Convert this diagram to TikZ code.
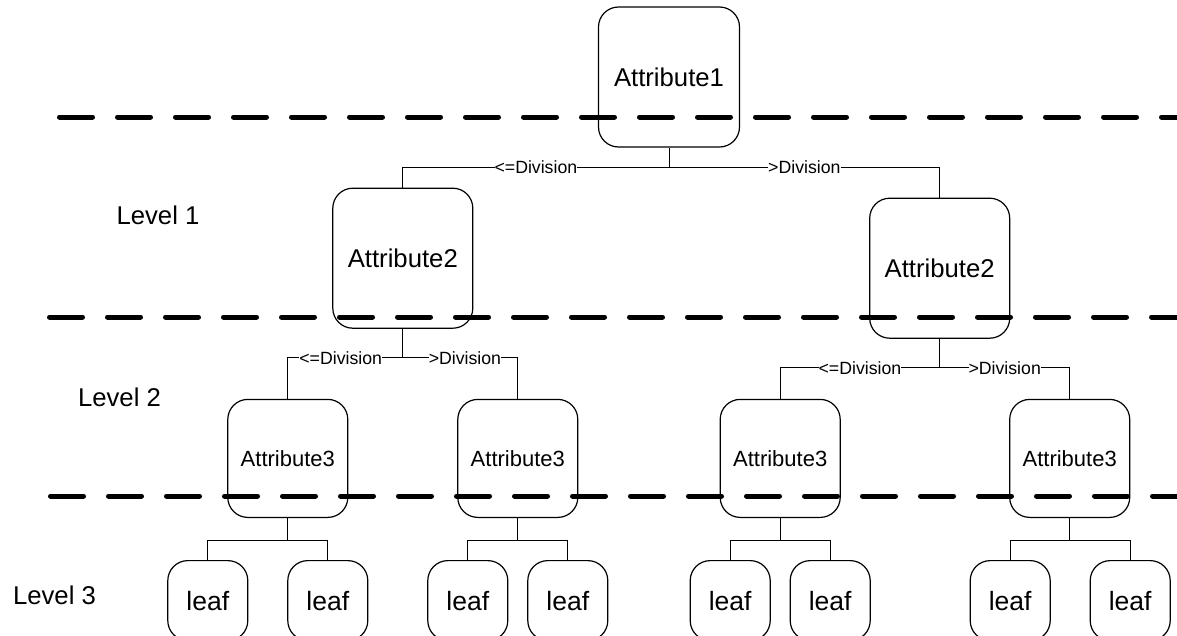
\documentclass[tikz,border=0pt]{standalone}
\usepackage{fontspec}
\setmainfont{Liberation Sans}
\usetikzlibrary{positioning}

\begin{document}
\begin{tikzpicture}[x=1pt,y=1pt,
box/.style={draw,rounded corners=20pt,line width=1.2pt,inner sep=0pt},
bigbox/.style={box,minimum width=140pt,minimum height=140pt,font=\fontsize{25.7}{30}\selectfont},
attrbox/.style={box,minimum width=120pt,minimum height=118pt,font=\fontsize{22}{26}\selectfont},
leafbox/.style={box,minimum size=80pt,font=\fontsize{26.5}{30}\selectfont},
level/.style={font=\fontsize{25.7}{30}\selectfont},
split/.style={fill=white,inner sep=0pt,font=\fontsize{17.7}{20}\selectfont},
link/.style={line width=1pt},
cut/.style={line width=5pt,line cap=round,dash pattern=on 33pt off 25pt}]
\useasboundingbox (0,0) rectangle (1177,-635);

\node [bigbox, minimum width=141pt] (a1) at (669,-77) {Attribute1};
\node [bigbox] (a2l) [below left = 40pt and 124.5pt of a1] {Attribute2};
\node [bigbox] (a2r) [below right = 50pt and 129pt of a1] {Attribute2};
\draw [link] (a1.south) -- ++(0,-20) -| node[split,pos=.25]{<=Division} (a2l.north);
\draw [link] (a1.south) -- ++(0,-20) -| node[split,pos=.25]{>Division} (a2r.north);

\node [attrbox] (a3a) [below = 70pt of a2l, xshift=-115pt] {Attribute3};
\node [attrbox] (a3b) [below = 70pt of a2l, xshift=115pt] {Attribute3};
\draw [link] (a2l.south) -- ++(0,-29) -| node[split,pos=.27]{<=Division} (a3a.north);
\draw [link] (a2l.south) -- ++(0,-29) -| node[split,pos=.27]{>Division} (a3b.north);

\node [attrbox] (a3c) [below = 60pt of a2r, xshift=-159.5pt] {Attribute3};
\node [attrbox] (a3d) [below = 60pt of a2r, xshift=130pt] {Attribute3};
\draw [link] (a2r.south) -- ++(0,-29) -| node[split,pos=.25]{<=Division} (a3c.north);
\draw [link] (a2r.south) -- ++(0,-29) -| node[split,pos=.25]{>Division} (a3d.north);

\node [leafbox] (l1) [below = 42pt of a3a, xshift=-80pt] {leaf};
\node [leafbox] (l2) [below = 42pt of a3a, xshift=40pt] {leaf};
\node [leafbox] (l3) [below = 42pt of a3b, xshift=-50pt] {leaf};
\node [leafbox] (l4) [below = 42pt of a3b, xshift=50pt] {leaf};
\node [leafbox] (l5) [below = 42pt of a3c, xshift=-50pt] {leaf};
\node [leafbox] (l6) [below = 42pt of a3c, xshift=50pt] {leaf};
\node [leafbox] (l7) [below = 42pt of a3d, xshift=-59.5pt] {leaf};
\node [leafbox] (l8) [below = 42pt of a3d, xshift=60.5pt] {leaf};
\draw [link] (a3a.south) -- ++(0,-22) -| (l1.north);
\draw [link] (a3a.south) -- ++(0,-22) -| (l2.north);
\draw [link] (a3b.south) -- ++(0,-22) -| (l3.north);
\draw [link] (a3b.south) -- ++(0,-22) -| (l4.north);
\draw [link] (a3c.south) -- ++(0,-22) -| (l5.north);
\draw [link] (a3c.south) -- ++(0,-22) -| (l6.north);
\draw [link] (a3d.south) -- ++(0,-22) -| (l7.north);
\draw [link] (a3d.south) -- ++(0,-22) -| (l8.north);

\node [level] (lv1) at (158,-215) {Level 1};
\node [level] (lv2) at (119.5,-397) {Level 2};
\node [level] (lv3) at (54.5,-595) {Level 3};

% level borders
\draw [cut] (59.5,-117) -- (1185,-117);
\draw [cut] (49.5,-317) -- (1185,-317);
\draw [cut] (50.5,-496) -- (1185,-496);
\end{tikzpicture}
\end{document}
